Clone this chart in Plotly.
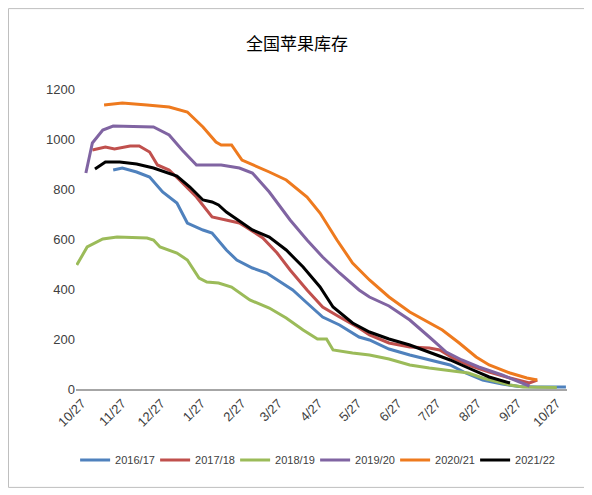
import plotly.graph_objs as go

# season axis: 2021-10-27 .. 2022-10-27, every season mapped onto it
tick_dates = ["2021-10-27", "2021-11-27", "2021-12-27", "2022-01-27", "2022-02-27",
              "2022-03-27", "2022-04-27", "2022-05-27", "2022-06-27", "2022-07-27",
              "2022-08-27", "2022-09-27", "2022-10-27"]
tick_text = ["10/27", "11/27", "12/27", "1/27", "2/27", "3/27", "4/27",
             "5/27", "6/27", "7/27", "8/27", "9/27", "10/27"]

d_1617 = ["2021-11-20", "2021-11-27", "2021-12-08", "2021-12-18", "2021-12-28", "2022-01-08",
          "2022-01-16", "2022-01-28", "2022-02-04", "2022-02-15", "2022-02-23", "2022-03-07",
          "2022-03-18", "2022-03-30", "2022-04-07", "2022-04-18", "2022-04-30", "2022-05-13",
          "2022-05-28", "2022-06-05", "2022-06-20", "2022-07-06", "2022-07-21", "2022-08-06",
          "2022-08-18", "2022-08-31", "2022-09-15", "2022-09-28", "2022-10-12", "2022-10-27",
          "2022-11-03"]
v_1617 = [876, 884, 868, 848, 788, 744, 664, 636, 624, 556, 516, 484, 464, 424, 396, 344,
          288, 256, 208, 196, 160, 136, 116, 96, 64, 36, 20, 10, 8, 8, 8]

d_1718 = ["2021-11-04", "2021-11-14", "2021-11-21", "2021-12-03", "2021-12-10", "2021-12-18",
          "2021-12-24", "2022-01-02", "2022-01-10", "2022-01-23", "2022-02-04", "2022-02-15",
          "2022-02-25", "2022-03-02", "2022-03-15", "2022-03-26", "2022-04-05", "2022-04-18",
          "2022-04-30", "2022-05-13", "2022-05-28", "2022-06-05", "2022-06-20", "2022-07-06",
          "2022-07-21", "2022-07-29", "2022-08-08", "2022-08-20", "2022-09-05", "2022-09-21",
          "2022-10-06", "2022-10-12"]
v_1718 = [956, 968, 960, 972, 972, 948, 896, 876, 836, 768, 688, 676, 664, 648, 604, 544,
          476, 396, 328, 288, 244, 216, 184, 168, 164, 156, 124, 96, 68, 44, 24, 36]

d_1819 = ["2021-10-23", "2021-10-31", "2021-11-12", "2021-11-23", "2021-12-16", "2021-12-21",
          "2021-12-26", "2022-01-08", "2022-01-16", "2022-01-25", "2022-01-31", "2022-02-09",
          "2022-02-19", "2022-03-05", "2022-03-20", "2022-04-02", "2022-04-15", "2022-04-26",
          "2022-05-03", "2022-05-08", "2022-05-23", "2022-06-05", "2022-06-20", "2022-07-06",
          "2022-07-21", "2022-08-06", "2022-08-20", "2022-08-31", "2022-09-11", "2022-09-21",
          "2022-10-01", "2022-10-18", "2022-10-27"]
v_1819 = [496, 568, 600, 608, 604, 596, 568, 544, 516, 444, 428, 424, 408, 356, 324, 284,
          236, 200, 200, 156, 144, 136, 120, 96, 84, 72, 64, 44, 28, 16, 8, 6, 6]

d_1920 = ["2021-10-30", "2021-11-04", "2021-11-12", "2021-11-20", "2021-12-21", "2022-01-02",
          "2022-01-12", "2022-01-23", "2022-02-11", "2022-02-25", "2022-03-07", "2022-03-20",
          "2022-04-05", "2022-04-18", "2022-04-30", "2022-05-13", "2022-05-28", "2022-06-05",
          "2022-06-20", "2022-07-06", "2022-07-21", "2022-08-03", "2022-08-15", "2022-08-28",
          "2022-09-15", "2022-09-28", "2022-10-06"]
v_1920 = [864, 984, 1036, 1052, 1048, 1016, 956, 896, 896, 884, 864, 788, 676, 596, 528,
          464, 396, 368, 332, 276, 208, 148, 116, 88, 56, 28, 12]

d_2021 = ["2021-11-13", "2021-11-27", "2021-12-16", "2022-01-02", "2022-01-16", "2022-01-28",
          "2022-02-07", "2022-02-11", "2022-02-19", "2022-02-27", "2022-03-20", "2022-04-02",
          "2022-04-18", "2022-04-28", "2022-05-11", "2022-05-23", "2022-06-05", "2022-06-20",
          "2022-07-06", "2022-07-21", "2022-07-31", "2022-08-13", "2022-08-26", "2022-09-05",
          "2022-09-21", "2022-10-04", "2022-10-12"]
v_2021 = [1136, 1144, 1136, 1128, 1108, 1048, 988, 976, 976, 916, 868, 836, 768, 704, 596,
          504, 436, 368, 308, 264, 236, 184, 128, 96, 64, 44, 36]

d_2122 = ["2021-11-06", "2021-11-14", "2021-11-25", "2021-12-08", "2021-12-21", "2022-01-08",
          "2022-01-18", "2022-01-28", "2022-02-04", "2022-02-09", "2022-02-15", "2022-02-22",
          "2022-03-07", "2022-03-20", "2022-04-02", "2022-04-15", "2022-04-28", "2022-05-08",
          "2022-05-23", "2022-06-05", "2022-06-20", "2022-07-06", "2022-07-21", "2022-08-06",
          "2022-08-20", "2022-09-05", "2022-09-21"]
v_2122 = [880, 908, 908, 900, 884, 852, 808, 756, 748, 736, 708, 684, 636, 608, 556, 488,
          408, 328, 264, 228, 200, 176, 148, 116, 84, 48, 24]

seasons = ["2016/17", "2017/18", "2018/19", "2019/20", "2020/21", "2021/22"]
all_dates = [d_1617, d_1718, d_1819, d_1920, d_2021, d_2122]
all_vals = [v_1617, v_1718, v_1819, v_1920, v_2021, v_2122]
colors = ["#4F81BD", "#C0504D", "#9BBB59", "#8064A2", "#EE7A1E", "#000000"]

font_fam = "Liberation Sans Narrow, Arial Narrow, Liberation Sans, sans-serif"

data = []
for name, xs, ys, c in zip(seasons, all_dates, all_vals, colors):
    data.append(go.Scatter(x=xs, y=ys, name=name, mode="lines",
                           line=dict(color=c, width=3)))

# page body has an 8px margin, so the figure itself is the bordered chart box
layout = go.Layout(
    width=578, height=480,
    margin=dict(l=68, r=19, t=81, b=99),
    paper_bgcolor="white", plot_bgcolor="white",
    title=dict(text="全国苹果库存", x=0.5, xanchor="center", y=0.925, yanchor="middle",
               font=dict(family="Noto Sans CJK SC", size=17, color="#000000")),
    xaxis=dict(type="date", range=["2021-10-22 10:00", "2022-11-03 20:00"],
               tickvals=tick_dates, ticktext=tick_text, tickangle=-45,
               showgrid=False, zeroline=False, showline=True,
               linecolor="#A6A6A6", linewidth=1.5, ticks="",
               tickfont=dict(family=font_fam, size=13, color="#404040")),
    yaxis=dict(range=[0, 1200], tickvals=[0, 200, 400, 600, 800, 1000, 1200],
               showgrid=False, zeroline=False, showline=False, ticks="",
               tickfont=dict(family="Liberation Sans, Arial, sans-serif", size=13, color="#404040")),
    legend=dict(orientation="h", x=0.487, xanchor="center", y=-0.237, yanchor="middle",
                font=dict(family=font_fam, size=11, color="#404040"),
                itemwidth=30, entrywidth=35, entrywidthmode="pixels"),
    shapes=[dict(type="rect", xref="paper", yref="paper",
                 x0=-0.1375, x1=1.0377, y0=-0.328, y1=1.268,
                 line=dict(color="#BFBFBF", width=1))],
)

fig = go.Figure(data=data, layout=layout)
fig.write_html("out.html")
